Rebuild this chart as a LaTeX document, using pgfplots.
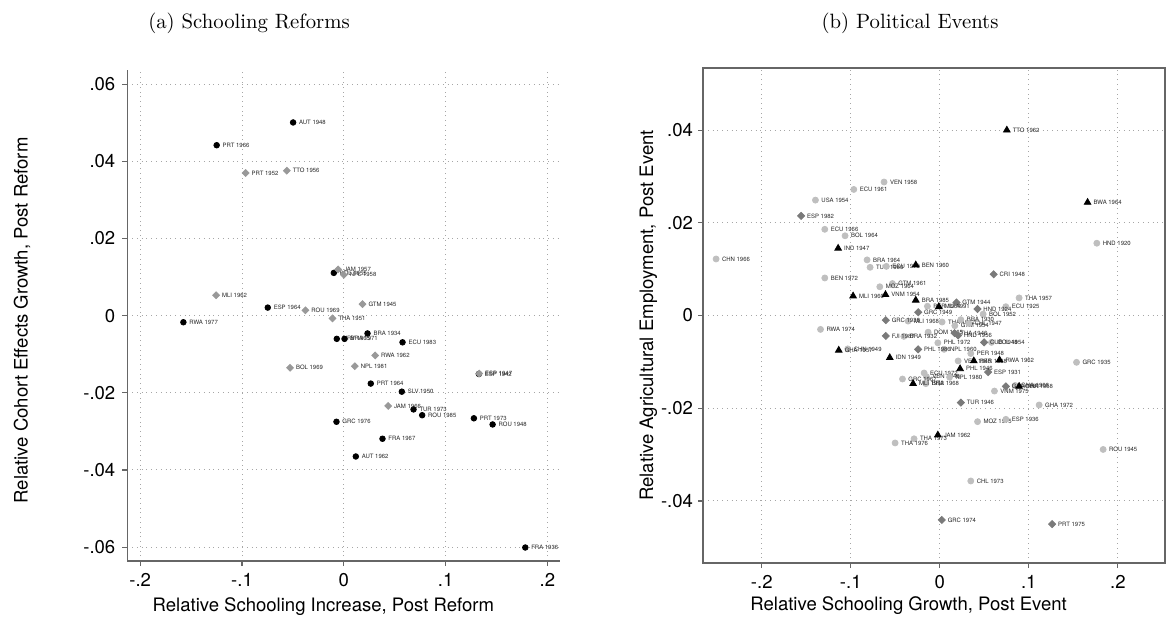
\documentclass[border=0pt]{standalone}
\usepackage{fontspec}
\usepackage{pgfplots}
\pgfplotsset{compat=1.18}
\usepackage{pgfplotstable}
\newfontfamily\hel{TeX Gyre Heros}

% ---------- (a) Schooling reforms ----------
\pgfplotstableread[col sep=comma, row sep=\\]{
x,y,lab\\
-0.0498,0.0501,AUT 1948\\
-0.1249,0.0442,PRT 1966\\
-0.0747,0.0021,ESP 1964\\
-0.1576,-0.0017,RWA 1977\\
-0.0098,0.0111,BOL 1955\\
0.0233,-0.0046,BRA 1934\\
-0.0069,-0.0060,HRV 1965\\
0.0007,-0.0060,BRA 1971\\
0.0577,-0.0069,ECU 1983\\
0.1327,-0.0151,ESP 1942\\
0.0265,-0.0176,PRT 1964\\
0.0570,-0.0197,SLV 1950\\
0.0685,-0.0243,TUR 1973\\
0.0770,-0.0258,ROU 1985\\
0.1278,-0.0266,PRT 1973\\
0.1462,-0.0282,ROU 1948\\
-0.0072,-0.0275,GRC 1976\\
0.0380,-0.0319,FRA 1967\\
0.0118,-0.0365,AUT 1962\\
0.1783,-0.0601,FRA 1936\\
}\Acirc
\pgfplotstableread[col sep=comma, row sep=\\]{
x,y,lab\\
-0.0964,0.0370,PRT 1952\\
-0.0560,0.0376,TTO 1956\\
-0.0056,0.0120,JAM 1957\\
0.0000,0.0106,NPL 1958\\
-0.1255,0.0053,MLI 1962\\
-0.0377,0.0014,ROU 1969\\
-0.0111,-0.0007,THA 1951\\
0.0184,0.0030,GTM 1945\\
0.0308,-0.0103,RWA 1962\\
-0.0528,-0.0135,BOL 1969\\
0.0108,-0.0131,NPL 1981\\
0.1330,-0.0150,ESP 1947\\
0.0436,-0.0234,JAM 1966\\
}\Adiam

% ---------- (b) Political events ----------
\pgfplotstableread[col sep=comma, row sep=\\]{
x,y,lab\\
-0.2513,0.0122,CHN 1966\\
-0.0626,0.0288,VEN 1958\\
-0.0966,0.0272,ECU 1961\\
-0.1397,0.0249,USA 1954\\
-0.1292,0.0186,ECU 1966\\
-0.1064,0.0172,BOL 1964\\
-0.0817,0.0120,BRA 1964\\
-0.0783,0.0104,TUR 1980\\
-0.0600,0.0106,ECU 1979\\
0.1764,0.0156,HND 1920\\
-0.1292,0.0081,BEN 1972\\
-0.0532,0.0069,GTM 1961\\
-0.0674,0.0062,MOZ 1964\\
0.0891,0.0038,THA 1957\\
0.0742,0.0019,ECU 1925\\
-0.0139,0.0020,PER 1964\\
0.0487,0.0003,BOL 1952\\
-0.0356,-0.0012,MLI 1968\\
0.0026,-0.0014,THA 1932\\
0.0236,-0.0009,BRA 1930\\
0.0169,-0.0022,GTM 1954\\
0.0326,-0.0017,CHL 1947\\
-0.1340,-0.0030,RWA 1974\\
-0.0131,-0.0036,DOM 1965\\
-0.0404,-0.0045,BRA 1932\\
-0.0022,-0.0059,PHL 1972\\
-0.1034,-0.0072,CHN 1949\\
0.0048,-0.0073,NPL 1960\\
0.0581,-0.0058,COL 1954\\
0.0348,-0.0082,PER 1948\\
0.0206,-0.0098,VEN 1945\\
0.1536,-0.0101,GRC 1935\\
-0.0176,-0.0124,ECU 1972\\
-0.0150,-0.0132,VEN 1948\\
0.0110,-0.0133,NPL 1980\\
-0.0419,-0.0137,GRC 1967\\
-0.0157,-0.0147,BRA 1968\\
0.0846,-0.0151,GHA 1966\\
0.0614,-0.0163,VNM 1975\\
0.1116,-0.0193,GHA 1972\\
0.0424,-0.0229,MOZ 1975\\
0.0742,-0.0224,ESP 1936\\
-0.0289,-0.0266,THA 1973\\
-0.0502,-0.0275,THA 1976\\
0.1835,-0.0289,ROU 1945\\
0.0348,-0.0357,CHL 1973\\
}\Bcirc
\pgfplotstableread[col sep=comma, row sep=\\]{
x,y,lab\\
-0.1558,0.0215,ESP 1982\\
0.0605,0.0089,CRI 1948\\
0.0187,0.0028,GTM 1944\\
-0.0243,0.0007,GRC 1949\\
0.0423,0.0014,HND 1924\\
-0.0607,-0.0010,GRC 1936\\
-0.0607,-0.0044,FJI 1987\\
0.0165,-0.0038,THA 1946\\
0.0205,-0.0043,HND 1956\\
0.0498,-0.0058,CUB 1948\\
-0.0243,-0.0073,PHL 1986\\
0.0543,-0.0122,ESP 1931\\
0.0742,-0.0153,GHA 1981\\
0.0236,-0.0188,TUR 1946\\
0.0022,-0.0441,GRC 1974\\
0.1262,-0.0450,PRT 1975\\
}\Bdiam
\pgfplotstableread[col sep=comma, row sep=\\]{
x,y,lab\\
0.0753,0.0400,TTO 1962\\
0.1660,0.0244,BWA 1964\\
-0.1142,0.0145,IND 1947\\
-0.0270,0.0109,BEN 1960\\
-0.0974,0.0042,MLI 1960\\
-0.0610,0.0045,VNM 1954\\
-0.0270,0.0033,BRA 1985\\
-0.0011,0.0019,MLI 1991\\
-0.1135,-0.0075,GHA 1957\\
-0.0562,-0.0091,IDN 1949\\
0.0382,-0.0098,PER 1968\\
0.0671,-0.0096,RWA 1962\\
0.0228,-0.0115,PHL 1946\\
-0.0300,-0.0147,MLI 1992\\
0.0891,-0.0153,GHA 1958\\
-0.0022,-0.0258,JAM 1962\\
}\Btri

\pgfplotsset{
  stata/.style={
    scale only axis,
    clip=false,
    scaled ticks=false,
    tick align=outside,
    major tick length=2.5bp,
    xtick pos=bottom, ytick pos=left,
    xmajorgrids, ymajorgrids,
    major grid style={dotted, black!35, line width=0.5bp},
    tick style={black!60, line width=0.6bp},
    axis line style={-, black!60, line width=0.7bp},
    tick label style={font=\hel\fontsize{9.3}{10}\selectfont, text=black},
    xtick={-0.2,-0.1,0,0.1,0.2},
    xticklabels={{-.2},{-.1},{0},{.1},{.2}},
  },
  lbl/.style={
    only marks,
    nodes near coords,
    point meta=explicit symbolic,
    every node near coord/.append style={anchor=west, inner sep=0pt, xshift=2.8bp,
      font=\hel\fontsize{3}{3.5}\selectfont, text=black!85},
  },
}

\begin{document}
\begin{tikzpicture}
\path[use as bounding box] (0,0) rectangle (586bp,-311bp);

\begin{axis}[stata,
  at={(63.65bp,-280.5bp)}, anchor=south west,
  width=216.35bp, height=245.5bp,
  xmin=-0.2127, xmax=0.2124, ymin=-0.0636, ymax=0.0637,
  axis x line*=bottom, axis y line*=left,
  ytick={-0.06,-0.04,-0.02,0,0.02,0.04,0.06},
  yticklabels={{-.06},{-.04},{-.02},{0},{.02},{.04},{.06}},
  xlabel={Relative Schooling Increase, Post Reform},
  ylabel={Relative Cohort Effects Growth, Post Reform},
  every axis x label/.style={at={(axis description cs:0.453,-0.092)}, anchor=center,
     font=\hel\fontsize{9.3}{10}\selectfont},
  every axis y label/.style={at={(axis description cs:-0.243,0.49)}, rotate=90, anchor=center,
     font=\hel\fontsize{9.3}{10}\selectfont},
]
\addplot[lbl, mark=*, mark size=1.4bp, mark options={draw=black, fill=black}]
  table[x=x, y=y, meta=lab] {\Acirc};
\addplot[lbl, mark=square*, mark size=1.2bp, mark options={rotate=45, draw=black!40, fill=black!40}]
  table[x=x, y=y, meta=lab] {\Adiam};
\end{axis}

\begin{axis}[stata,
  at={(351.5bp,-281.5bp)}, anchor=south west,
  width=231bp, height=247.5bp,
  xmin=-0.266, xmax=0.253, ymin=-0.0534, ymax=0.0534,
  ytick={-0.04,-0.02,0,0.02,0.04},
  yticklabels={{-.04},{-.02},{0},{.02},{.04}},
  yticklabel style={xshift=1bp},
  xlabel={Relative Schooling Growth, Post Event},
  ylabel={Relative Agricultural Employment, Post Event},
  every axis x label/.style={at={(axis description cs:0.445,-0.087)}, anchor=center,
     font=\hel\fontsize{9.3}{10}\selectfont},
  every axis y label/.style={at={(axis description cs:-0.118,0.5)}, rotate=90, anchor=center,
     font=\hel\fontsize{9.3}{10}\selectfont},
]
\addplot[lbl, mark=*, mark size=1.5bp, mark options={draw=black!25, fill=black!25}]
  table[x=x, y=y, meta=lab] {\Bcirc};
\addplot[lbl, mark=square*, mark size=1.25bp, mark options={rotate=45, draw=black!52, fill=black!52}]
  table[x=x, y=y, meta=lab] {\Bdiam};
\addplot[lbl, mark=triangle*, mark size=1.9bp, mark options={draw=black, fill=black}]
  table[x=x, y=y, meta=lab] {\Btri};
\end{axis}

\node[anchor=base, font=\fontsize{10.4}{12}\selectfont] at (124.5bp,-14bp) {(a) Schooling Reforms};
\node[anchor=base, font=\fontsize{10.4}{12}\selectfont] at (455bp,-14bp) {(b) Political Events};
\end{tikzpicture}
\end{document}
